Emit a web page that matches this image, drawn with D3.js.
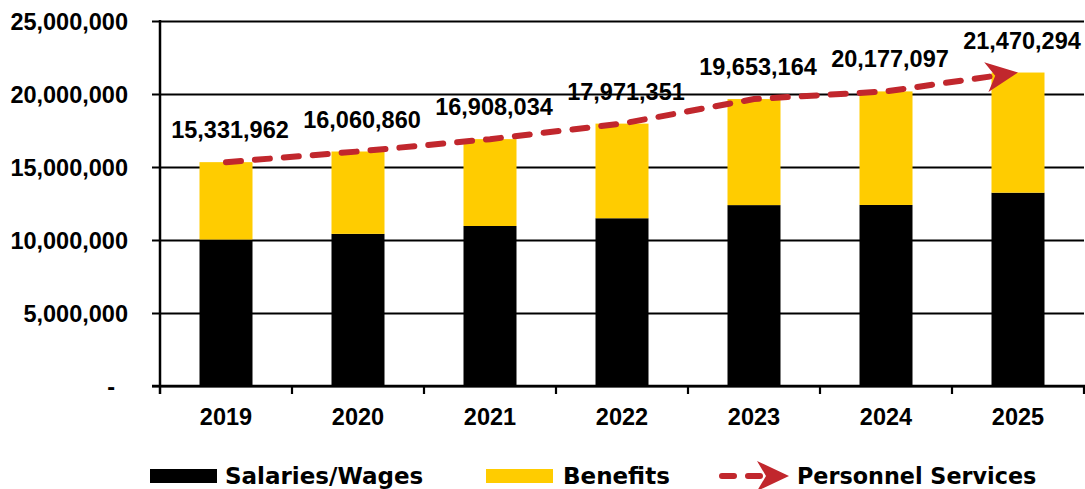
<!DOCTYPE html>
<html>
<head>
<meta charset="utf-8">
<script src="https://cdn.jsdelivr.net/npm/d3@7"></script>
<style>
  html, body { margin: 0; padding: 0; background: #fff; }
  svg { display: block; font-family: "Liberation Sans", Arial, sans-serif; font-weight: bold; }
  .legend text { font-family: "DejaVu Sans", sans-serif; }
</style>
</head>
<body>
<svg id="chart" width="1085" height="489"></svg>
<script>
// Personnel services by fiscal year
const years = ["2019", "2020", "2021", "2022", "2023", "2024", "2025"];
const salaries = [10030000, 10420000, 10960000, 11490000, 12390000, 12400000, 13240000];
const totals = [15331962, 16060860, 16908034, 17971351, 19653164, 20177097, 21470294];
const yTicks = [0, 5000000, 10000000, 15000000, 20000000, 25000000];
const legendLabels = ["Salaries/Wages", "Benefits", "Personnel Services"];

const colors = { salaries: "#000000", benefits: "#FFCC00", line: "#C1272D" };

const svg = d3.select("#chart");
const plotLeft = 160, plotRight = 1084, plotTop = 21, plotBottom = 386;

const x = d3.scaleBand().domain(years).range([plotLeft, plotRight]).padding(0);
const y = d3.scaleLinear().domain([0, 25000000]).range([plotBottom, plotTop]);

const barW = 53;
const fmt = d3.format(",");

// horizontal gridlines with short outer ticks
const yAxis = d3.axisLeft(y)
  .tickValues(yTicks)
  .tickSizeInner(-(plotRight - plotLeft))
  .tickSizeOuter(0)
  .tickFormat(d => d === 0 ? "-" : fmt(d));

const gy = svg.append("g").attr("transform", `translate(${plotLeft},0)`).call(yAxis);
gy.select(".domain").remove();
gy.selectAll(".tick line")
  .attr("x1", -8)
  .attr("stroke", "#000")
  .attr("stroke-width", 2.2);
gy.selectAll(".tick text")
  .attr("x", d => d === 0 ? -45 : -32)
  .attr("dy", "0.36em")
  .attr("fill", "#000")
  .style("font-size", "23.5px")
  .style("font-family", "'Liberation Sans', Arial, sans-serif")
  .style("font-weight", "bold");

// stacked bars: salaries at the base, benefits on top
const barG = svg.append("g");
barG.selectAll("rect.sal").data(years).join("rect")
  .attr("class", "sal")
  .attr("x", d => x(d) + x.bandwidth() / 2 - barW / 2)
  .attr("width", barW)
  .attr("y", (d, i) => y(salaries[i]))
  .attr("height", (d, i) => y(0) - y(salaries[i]))
  .attr("fill", colors.salaries);
barG.selectAll("rect.ben").data(years).join("rect")
  .attr("class", "ben")
  .attr("x", d => x(d) + x.bandwidth() / 2 - barW / 2)
  .attr("width", barW)
  .attr("y", (d, i) => y(totals[i]))
  .attr("height", (d, i) => y(salaries[i]) - y(totals[i]))
  .attr("fill", colors.benefits);

// vertical axis line and category axis
svg.append("line")
  .attr("x1", plotLeft).attr("x2", plotLeft)
  .attr("y1", plotTop - 1).attr("y2", plotBottom + 8)
  .attr("stroke", "#000").attr("stroke-width", 2.5);
svg.append("line")
  .attr("x1", plotLeft - 8).attr("x2", plotRight + 1)
  .attr("y1", plotBottom).attr("y2", plotBottom)
  .attr("stroke", "#000").attr("stroke-width", 2.5);

const bounds = years.map(d => x(d)).concat([plotRight]);
svg.append("g").selectAll("line").data(bounds.slice(1)).join("line")
  .attr("x1", d => d).attr("x2", d => d)
  .attr("y1", plotBottom).attr("y2", plotBottom + 8)
  .attr("stroke", "#000").attr("stroke-width", 2.2);

svg.append("g").selectAll("text").data(years).join("text")
  .attr("x", d => x(d) + x.bandwidth() / 2)
  .attr("y", 425)
  .attr("text-anchor", "middle")
  .style("font-size", "23.5px")
  .text(d => d);

// total line with arrowhead
const pts = years.map((d, i) => [x(d) + x.bandwidth() / 2, y(totals[i])]);
const n = pts.length;
const [px, py] = pts[n - 2], [tx, ty] = pts[n - 1];
const ang = Math.atan2(ty - py, tx - px);
const headLen = 32, headHalf = 15, notch = 9;
const cut = [tx - Math.cos(ang) * (headLen - notch), ty - Math.sin(ang) * (headLen - notch)];

svg.append("path")
  .datum(pts.slice(0, n - 1).concat([cut]))
  .attr("d", d3.line())
  .attr("fill", "none")
  .attr("stroke", colors.line)
  .attr("stroke-width", 6)
  .attr("stroke-linecap", "round")
  .attr("stroke-dasharray", "15,14");

function stealth(tipX, tipY, a, len, half, nt) {
  const c = Math.cos(a), s = Math.sin(a);
  const bx = tipX - c * len, by = tipY - s * len;
  const p1 = [bx - s * half, by + c * half];
  const p2 = [tipX - c * (len - nt), tipY - s * (len - nt)];
  const p3 = [bx + s * half, by - c * half];
  return `M${tipX},${tipY}L${p1}L${p2}L${p3}Z`;
}
svg.append("path")
  .attr("d", stealth(tx, ty, ang, headLen, headHalf, notch))
  .attr("fill", colors.line);

// total value labels
svg.append("g").selectAll("text").data(years).join("text")
  .attr("x", d => x(d) + x.bandwidth() / 2 + 4)
  .attr("y", (d, i) => y(totals[i]) - 24)
  .attr("text-anchor", "middle")
  .style("font-size", "23.5px")
  .text((d, i) => fmt(totals[i]));

// legend
const lg = svg.append("g").attr("class", "legend");
lg.append("rect").attr("x", 150).attr("y", 469).attr("width", 67).attr("height", 14).attr("fill", colors.salaries);
lg.append("text").attr("x", 225).attr("y", 484).style("font-size", "23px").text(legendLabels[0]);
lg.append("rect").attr("x", 486).attr("y", 469).attr("width", 67).attr("height", 14).attr("fill", colors.benefits);
lg.append("text").attr("x", 563).attr("y", 484).style("font-size", "23px").text(legendLabels[1]);
lg.append("path").attr("d", "M722,476H764")
  .attr("stroke", colors.line).attr("stroke-width", 6)
  .attr("stroke-linecap", "round").attr("stroke-dasharray", "12,14");
lg.append("path").attr("d", stealth(789, 476, 0, 32, 15, 9)).attr("fill", colors.line);
lg.append("text").attr("x", 797).attr("y", 484).style("font-size", "22.3px").text(legendLabels[2]);
</script>
</body>
</html>
